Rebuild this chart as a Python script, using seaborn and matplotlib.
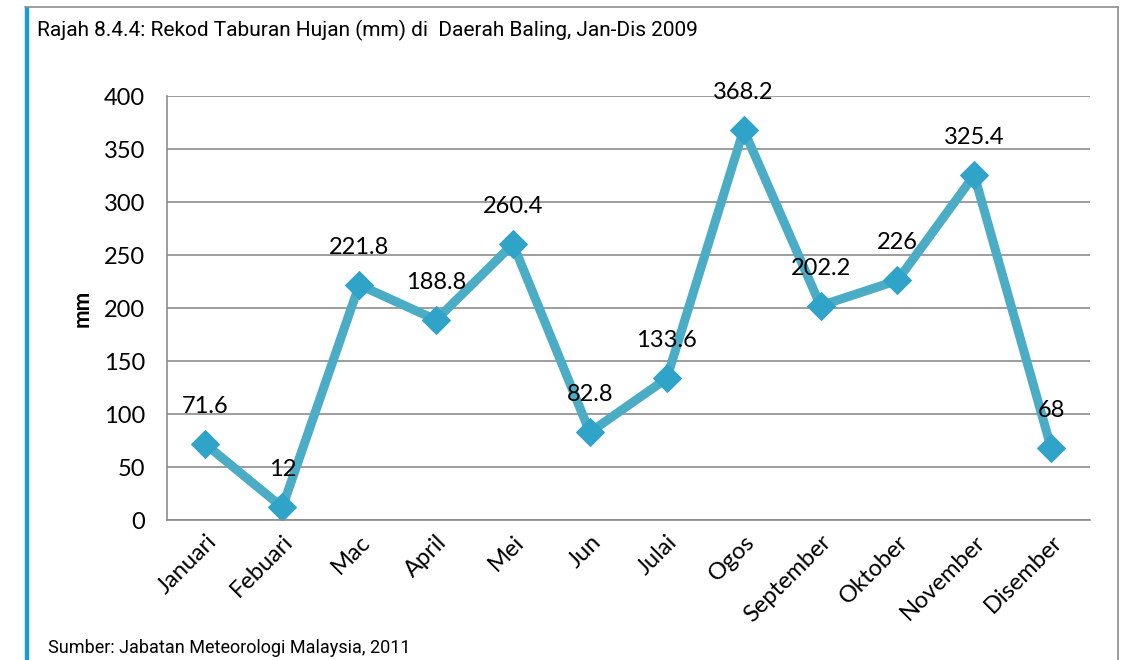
import matplotlib.pyplot as plt
import seaborn as sns
import pandas as pd
from matplotlib.patches import Rectangle
from matplotlib.lines import Line2D

sns.set_theme(style="white")
plt.rcParams['font.family'] = ['Lato', 'DejaVu Sans']
plt.rcParams['text.color'] = 'black'
plt.rcParams['xtick.color'] = 'black'
plt.rcParams['ytick.color'] = 'black'
plt.rcParams['axes.labelcolor'] = 'black'

# data
bulan = ['Januari', 'Febuari', 'Mac', 'April', 'Mei', 'Jun', 'Julai', 'Ogos',
         'September', 'Oktober', 'November', 'Disember']
hujan = [71.6, 12, 221.8, 188.8, 260.4, 82.8, 133.6, 368.2, 202.2, 226, 325.4, 68]
label_teks = ['71.6', '12', '221.8', '188.8', '260.4', '82.8', '133.6', '368.2',
              '202.2', '226', '325.4', '68']

df = pd.DataFrame({'bulan': bulan, 'hujan': hujan})

fig = plt.figure(figsize=(11.21, 6.60), dpi=100)
ax = fig.add_axes([0.149, 0.212, 0.823, 0.6425])

sns.lineplot(data=df, x='bulan', y='hujan', ax=ax, color='#4BACC6', linewidth=6.5,
             marker='D', markersize=14, markerfacecolor='#2FA3C8',
             markeredgecolor='#2FA3C8', sort=False)

for i, (v, t) in enumerate(zip(hujan, label_teks)):
    ax.annotate(t, (i, v), xytext=(0, 27), textcoords='offset points',
                ha='center', va='center', fontsize=17, color='black')

ax.set_xlim(-0.5, len(bulan) - 0.5)
ax.set_ylim(0, 400)
ax.set_yticks(range(0, 401, 50))
ax.yaxis.grid(True, color='#8c8c8c', linewidth=1.2)
ax.set_axisbelow(True)
for s in ['top', 'right']:
    ax.spines[s].set_visible(False)
for s in ['left', 'bottom']:
    ax.spines[s].set_color('#8c8c8c')
    ax.spines[s].set_linewidth(1.2)
ax.tick_params(axis='y', labelsize=17, pad=16, length=0)
ax.tick_params(axis='x', labelsize=17, length=0, pad=8)
plt.setp(ax.get_xticklabels(), rotation=45, ha='right', rotation_mode='anchor')
ax.set_xlabel('')
ax.set_ylabel('mm', fontsize=16, fontweight='bold', labelpad=8)

# frame
fig.add_artist(Line2D([25 / 1121, 1118 / 1121], [1 - 7 / 660, 1 - 7 / 660],
                      color='#8c8c8c', linewidth=1.2, transform=fig.transFigure))
fig.add_artist(Line2D([1118 / 1121, 1118 / 1121], [0, 1 - 7 / 660],
                      color='#8c8c8c', linewidth=1.2, transform=fig.transFigure))
fig.add_artist(Rectangle((25 / 1121, 0), 3 / 1121, 1 - 7 / 660, color='#1a9be0',
                         transform=fig.transFigure))

cond = ['DejaVu Sans Condensed', 'Roboto', 'DejaVu Sans']
fig.text(37 / 1121, 1 - 30 / 660,
         'Rajah 8.4.4: Rekod Taburan Hujan (mm) di  Daerah Baling, Jan-Dis 2009',
         family=cond, fontsize=15, va='center', ha='left')
fig.text(48 / 1121, 1 - 648 / 660, 'Sumber: Jabatan Meteorologi Malaysia, 2011',
         family=cond, fontsize=13, va='center', ha='left')

fig.savefig('out.png', dpi=100)
